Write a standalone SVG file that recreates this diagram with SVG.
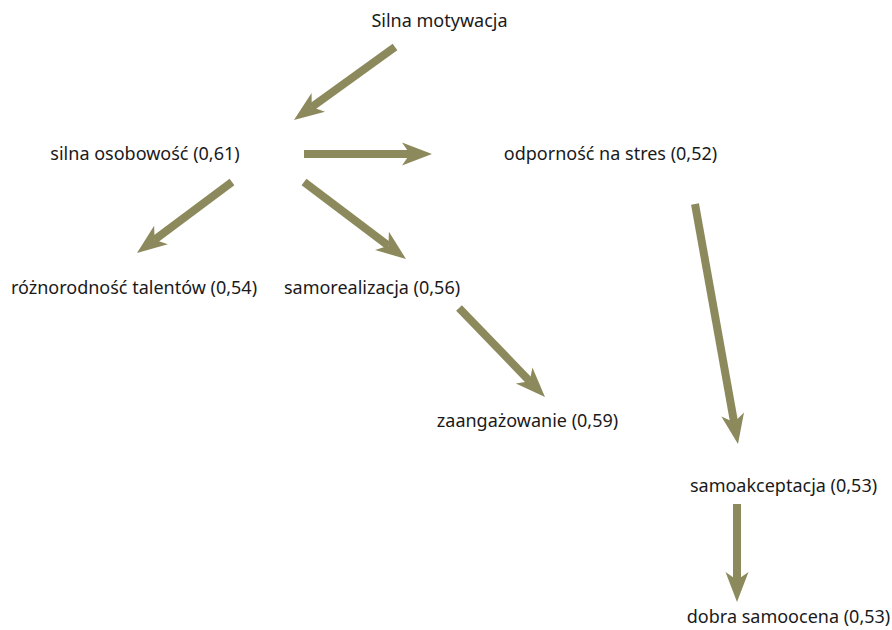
<svg xmlns="http://www.w3.org/2000/svg" width="892" height="630" viewBox="0 0 892 630">
<defs>
<style>
.n text{font-family:"Noto Sans","Open Sans","DejaVu Sans",sans-serif;font-size:18px;fill:#1a1a1a;text-anchor:middle}
.e line{stroke:#8c8a5c;stroke-width:8;marker-end:url(#ah)}
</style>
<marker id="ah" markerUnits="userSpaceOnUse" markerWidth="40" markerHeight="40" viewBox="-2 -14 40 28" refX="8" refY="0" orient="auto">
<path d="M0,-11.5 L30,0 L0,11.5 L8,0 Z" fill="#8c8a5c"/>
</marker>
</defs>
<rect width="892" height="630" fill="#fff"/>
<g class="e" id="connectors">
<line x1="395" y1="47" x2="311.8" y2="107.1"/>
<line x1="304" y1="154" x2="410" y2="154"/>
<line x1="232" y1="182" x2="154.6" y2="239.8"/>
<line x1="304" y1="182" x2="388.4" y2="245.7"/>
<line x1="459" y1="308" x2="529.7" y2="381.2"/>
<line x1="695" y1="204" x2="734.1" y2="422.3"/>
<line x1="737" y1="504" x2="737" y2="580"/>
</g>
<g class="n" id="n1"><text x="439.5" y="27">Silna motywacja</text></g>
<g class="n" id="n2"><text x="145" y="160">silna osobowość (0,61)</text></g>
<g class="n" id="n3"><text x="610.5" y="160">odporność na stres (0,52)</text></g>
<g class="n" id="n4"><text x="134" y="294">różnorodność talentów (0,54)</text></g>
<g class="n" id="n5"><text x="372" y="294">samorealizacja (0,56)</text></g>
<g class="n" id="n6"><text x="527.5" y="427">zaangażowanie (0,59)</text></g>
<g class="n" id="n7"><text x="783.5" y="492">samoakceptacja (0,53)</text></g>
<g class="n" id="n8"><text x="788.5" y="623">dobra samoocena (0,53)</text></g>
</svg>
